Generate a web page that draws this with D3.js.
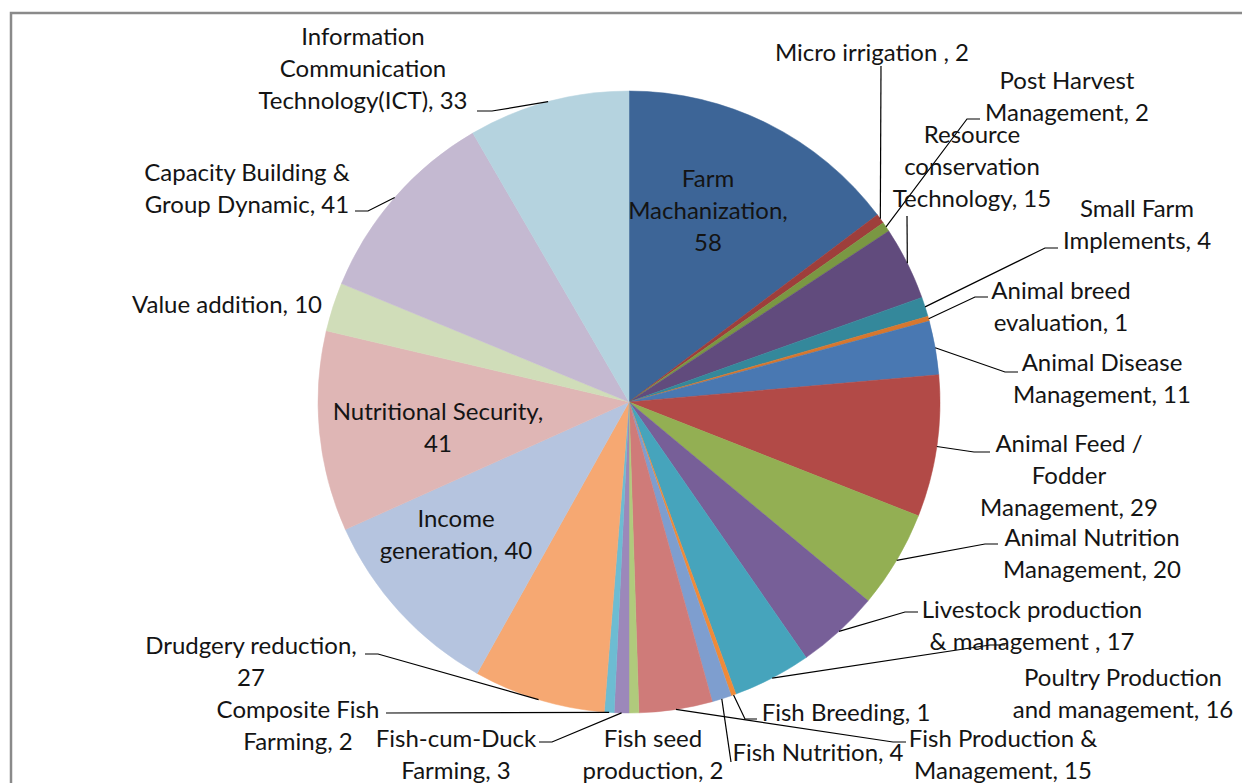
<!DOCTYPE html>
<html>
<head>
<meta charset="utf-8">
<script src="https://cdn.jsdelivr.net/npm/d3@7"></script>
<style>
  html, body { margin: 0; padding: 0; background: #fff; }
  svg { display: block; }
  text { font-family: Lato, "Open Sans", sans-serif; font-size: 24px; fill: #141414; }
</style>
</head>
<body>
<svg id="chart" width="1242" height="783"></svg>
<script>
// Training themes and number of programmes
const categories = [
  "Farm Machanization", "Micro irrigation ", "Post Harvest Management",
  "Resource conservation Technology", "Small Farm Implements", "Animal breed evaluation",
  "Animal Disease Management", "Animal Feed / Fodder Management", "Animal Nutrition Management",
  "Livestock production & management ", "Poultry Production and management", "Fish Breeding",
  "Fish Nutrition", "Fish Production & Management", "Fish seed production",
  "Fish-cum-Duck Farming", "Composite Fish Farming", "Drudgery reduction",
  "Income generation", "Nutritional Security", "Value addition",
  "Capacity Building & Group Dynamic", "Information Communication Technology(ICT)"
];
const values = [58, 2, 2, 15, 4, 1, 11, 29, 20, 17, 16, 1, 4, 15, 2, 3, 2, 27, 40, 41, 10, 41, 33];

// Wrapped label lines (the value is appended to the last line)
const labelLines = [
  ["Farm", "Machanization,", "{v}"],
  ["Micro irrigation , {v}"],
  ["Post Harvest", "Management, {v}"],
  ["Resource", "conservation", "Technology, {v}"],
  ["Small Farm", "Implements, {v}"],
  ["Animal breed", "evaluation, {v}"],
  ["Animal Disease", "Management, {v}"],
  ["Animal Feed /", "Fodder", "Management, {v}"],
  ["Animal Nutrition", "Management, {v}"],
  ["Livestock production", "& management , {v}"],
  ["Poultry Production", "and management, {v}"],
  ["Fish Breeding, {v}"],
  ["Fish Nutrition, {v}"],
  ["Fish Production &", "Management, {v}"],
  ["Fish seed", "production, {v}"],
  ["Fish-cum-Duck", "Farming, {v}"],
  ["Composite Fish", "Farming, {v}"],
  ["Drudgery reduction,", "{v}"],
  ["Income", "generation, {v}"],
  ["Nutritional Security,", "{v}"],
  ["Value addition, {v}"],
  ["Capacity Building &", "Group Dynamic, {v}"],
  ["Information", "Communication", "Technology(ICT), {v}"]
];

const colors = [
  "#3D6597", "#9E3E3B", "#7A9743", "#614B7D", "#34889B", "#D7772E",
  "#4978B2", "#B24A47", "#93AF53", "#775F98", "#46A4BC", "#F08A38",
  "#7E9ECF", "#CF7B79", "#B0CA7C", "#9C88BA", "#6DBCD2", "#F6A872",
  "#B5C4DF", "#DFB6B5", "#D0DDB9", "#C4B9D1", "#B5D3DF"
];

// Label placement: centre x, centre y of first line, leader line points (from label towards pie)
const lineGap = 32;
const labelLayout = [
  { x: 708, y: 178, leader: null },
  { x: 872, y: 52,  leader: [[881, 66]] },
  { x: 1067, y: 80, leader: [[980, 119], [967, 119]] },
  { x: 972, y: 134, leader: [[907, 216]] },
  { x: 1137, y: 208, leader: [[1058, 248], [1045, 248]] },
  { x: 1061, y: 290, leader: [[988, 297], [975, 297]] },
  { x: 1102, y: 362, leader: [[1018, 372], [1005, 372]] },
  { x: 1069, y: 443, leader: [[990, 452], [974, 452]] },
  { x: 1092, y: 537, leader: [[998, 544], [985, 544]] },
  { x: 1032, y: 609, leader: [[918, 612], [905, 612]] },
  { x: 1123, y: 677, leader: [[1005, 645], [990, 645]] },
  { x: 846, y: 712, leader: [[757, 719], [745, 719]] },
  { x: 818, y: 752, leader: [[731, 762]] },
  { x: 1003, y: 738, leader: [[906, 742], [893, 742]] },
  { x: 653, y: 738, leader: null },
  { x: 456, y: 738, leader: [[539, 742], [552, 742]] },
  { x: 298, y: 709, leader: [[386, 713]] },
  { x: 251, y: 645, leader: [[365, 654], [378, 654]] },
  { x: 456, y: 518, leader: null },
  { x: 438, y: 411, leader: null },
  { x: 227, y: 304, leader: null },
  { x: 247, y: 172, leader: [[355, 211], [368, 211]] },
  { x: 363, y: 36,  leader: [[477, 111], [492, 111]] }
];

const cx = 629, cy = 402, radius = 311;

const svg = d3.select("#chart");

// Chart area border
svg.append("rect")
  .attr("x", 11).attr("y", 13)
  .attr("width", 1400).attr("height", 1000)
  .attr("fill", "#fff")
  .attr("stroke", "#8a8a8a")
  .attr("stroke-width", 2.5);

const data = categories.map((c, i) => ({ name: c, value: values[i], i }));

const pie = d3.pie().value(d => d.value).sort(null);
const arcs = pie(data);

const arc = d3.arc().innerRadius(0).outerRadius(radius);
const edge = d3.arc().innerRadius(radius).outerRadius(radius);

const g = svg.append("g").attr("transform", `translate(${cx},${cy})`);

g.selectAll("path.slice")
  .data(arcs)
  .join("path")
  .attr("class", "slice")
  .attr("d", arc)
  .attr("fill", d => colors[d.data.i])
  .attr("stroke", d => colors[d.data.i])
  .attr("stroke-width", 0.5);

// Leader lines from the slice edge to the label
const line = d3.line();
arcs.forEach(a => {
  const lay = labelLayout[a.data.i];
  if (!lay.leader) return;
  const [ex, ey] = edge.centroid(a);
  const pts = [[ex + cx, ey + cy]].concat(lay.leader.slice().reverse());
  svg.append("path")
    .attr("d", line(pts))
    .attr("fill", "none")
    .attr("stroke", "#000")
    .attr("stroke-width", 1.2);
});

// Data labels
arcs.forEach(a => {
  const lay = labelLayout[a.data.i];
  const lines = labelLines[a.data.i].map(s => s.replace("{v}", a.data.value));
  const t = svg.append("text")
    .attr("text-anchor", "middle");
  lines.forEach((s, k) => {
    t.append("tspan")
      .attr("x", lay.x)
      .attr("y", lay.y + k * lineGap)
      .attr("dy", "0.36em")
      .text(s);
  });
});
</script>
</body>
</html>
